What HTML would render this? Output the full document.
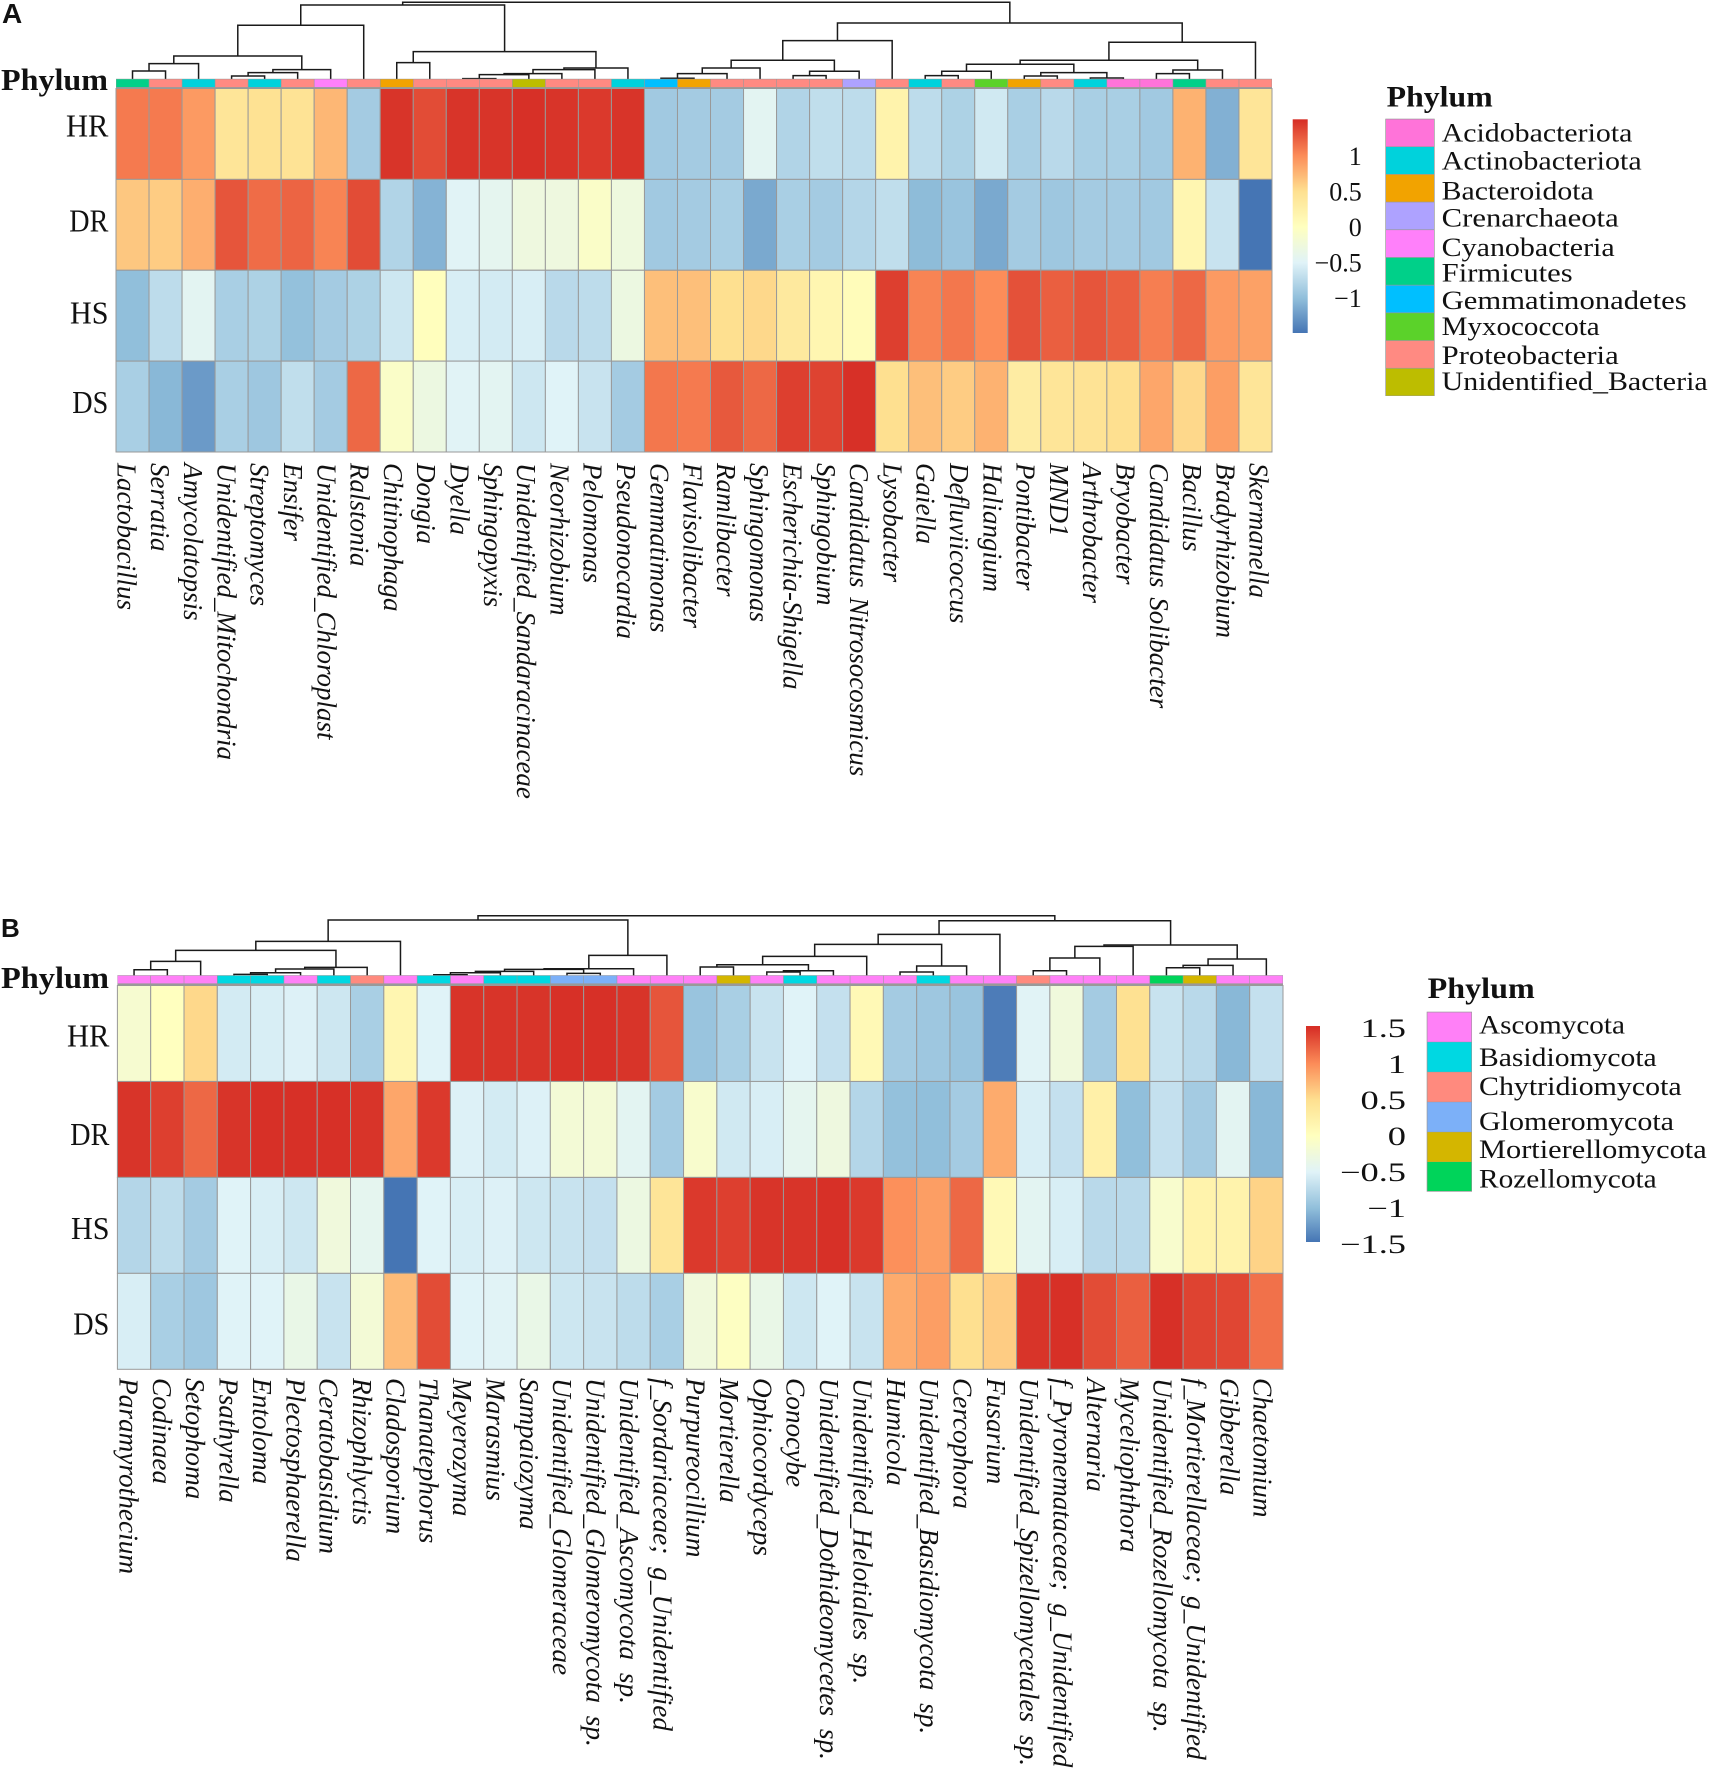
<!DOCTYPE html>
<html lang="en">
<head>
<meta charset="utf-8">
<title>Phylum heatmaps</title>
<style>
html,body{margin:0;padding:0;background:#fff;}
svg{display:block;}
text{font-family:"Liberation Serif",serif;fill:#111;}
</style>
</head>
<body>
<svg id="fig" xmlns="http://www.w3.org/2000/svg" width="1712" height="1772" viewBox="0 0 1712 1772">
  <rect x="0" y="0" width="1712" height="1772" fill="#fff"/>

  <text x="2" y="23" style="font-family:'Liberation Sans',sans-serif;font-weight:bold;font-size:28px">A</text>
  <text x="1" y="937" style="font-family:'Liberation Sans',sans-serif;font-weight:bold;font-size:26px">B</text>

  <text x="1" y="90" font-size="31" font-weight="bold" textLength="107" lengthAdjust="spacingAndGlyphs">Phylum</text>
  <text x="66" y="136.7" font-size="32" textLength="42.4" lengthAdjust="spacingAndGlyphs">HR</text>
  <text x="69.3" y="231.7" font-size="32" textLength="39" lengthAdjust="spacingAndGlyphs">DR</text>
  <text x="70" y="323.3" font-size="32" textLength="38.5" lengthAdjust="spacingAndGlyphs">HS</text>
  <text x="72.3" y="413" font-size="32" textLength="36" lengthAdjust="spacingAndGlyphs">DS</text>

  <text x="1" y="988" font-size="31" font-weight="bold" textLength="108" lengthAdjust="spacingAndGlyphs">Phylum</text>
  <text x="67" y="1046.7" font-size="32" textLength="42.4" lengthAdjust="spacingAndGlyphs">HR</text>
  <text x="70.3" y="1145" font-size="32" textLength="39" lengthAdjust="spacingAndGlyphs">DR</text>
  <text x="71" y="1239" font-size="32" textLength="38.5" lengthAdjust="spacingAndGlyphs">HS</text>
  <text x="73.3" y="1334.3" font-size="32" textLength="36" lengthAdjust="spacingAndGlyphs">DS</text>

  <g font-size="26">
    <text x="1386.7" y="106.7" font-size="30" font-weight="bold" textLength="106" lengthAdjust="spacingAndGlyphs">Phylum</text>
    <rect x="1385.3" y="118.7" width="49.4" height="277.3" fill="#999"/>
    <rect x="1386" y="119.4" width="48" height="27" fill="#FF73D9"/>
    <rect x="1386" y="147" width="48" height="27" fill="#00D2DC"/>
    <rect x="1386" y="174.7" width="48" height="27" fill="#F2A300"/>
    <rect x="1386" y="202.4" width="48" height="27" fill="#AEA2FF"/>
    <rect x="1386" y="230.1" width="48" height="27" fill="#FF80FA"/>
    <rect x="1386" y="257.8" width="48" height="27" fill="#00D089"/>
    <rect x="1386" y="285.5" width="48" height="27" fill="#00BFFF"/>
    <rect x="1386" y="313.2" width="48" height="27" fill="#5BD22A"/>
    <rect x="1386" y="340.9" width="48" height="27" fill="#FF8A82"/>
    <rect x="1386" y="368.6" width="48" height="27" fill="#BDBD00"/>
    <text x="1441.7" y="141.7" textLength="190.7" lengthAdjust="spacingAndGlyphs">Acidobacteriota</text>
    <text x="1441.7" y="169.3" textLength="200" lengthAdjust="spacingAndGlyphs">Actinobacteriota</text>
    <text x="1441.7" y="199.3" textLength="152" lengthAdjust="spacingAndGlyphs">Bacteroidota</text>
    <text x="1441.7" y="226.7" textLength="177" lengthAdjust="spacingAndGlyphs">Crenarchaeota</text>
    <text x="1441.7" y="256" textLength="173" lengthAdjust="spacingAndGlyphs">Cyanobacteria</text>
    <text x="1441.7" y="281.7" textLength="131" lengthAdjust="spacingAndGlyphs">Firmicutes</text>
    <text x="1441.7" y="309" textLength="245" lengthAdjust="spacingAndGlyphs">Gemmatimonadetes</text>
    <text x="1441.7" y="335" textLength="158" lengthAdjust="spacingAndGlyphs">Myxococcota</text>
    <text x="1441.7" y="364" textLength="177" lengthAdjust="spacingAndGlyphs">Proteobacteria</text>
    <text x="1441.7" y="390" textLength="266" lengthAdjust="spacingAndGlyphs">Unidentified_Bacteria</text>
  </g>

  <g font-size="26">
    <text x="1427.7" y="998" font-size="30" font-weight="bold" textLength="107" lengthAdjust="spacingAndGlyphs">Phylum</text>
    <rect x="1426.7" y="1011.7" width="45.3" height="180" fill="#999"/>
    <rect x="1427.4" y="1012.4" width="44" height="29.4" fill="#FF80F7"/>
    <rect x="1427.4" y="1042.2" width="44" height="29.6" fill="#00D8E2"/>
    <rect x="1427.4" y="1072.2" width="44" height="29.6" fill="#FF8A7E"/>
    <rect x="1427.4" y="1102.2" width="44" height="29.6" fill="#7CB0F8"/>
    <rect x="1427.4" y="1132.2" width="44" height="29.6" fill="#D4B600"/>
    <rect x="1427.4" y="1162" width="44" height="29" fill="#00D45A"/>
    <text x="1479" y="1033.3" textLength="146" lengthAdjust="spacingAndGlyphs">Ascomycota</text>
    <text x="1479" y="1066" textLength="177.7" lengthAdjust="spacingAndGlyphs">Basidiomycota</text>
    <text x="1479" y="1095" textLength="202.7" lengthAdjust="spacingAndGlyphs">Chytridiomycota</text>
    <text x="1479" y="1130" textLength="195" lengthAdjust="spacingAndGlyphs">Glomeromycota</text>
    <text x="1479" y="1158" textLength="227.7" lengthAdjust="spacingAndGlyphs">Mortierellomycota</text>
    <text x="1479" y="1187.7" textLength="177.7" lengthAdjust="spacingAndGlyphs">Rozellomycota</text>
  </g>
  <defs id="defs"></defs>
</svg>
<script>
// ---------- Panel A data ----------
const generaA = ["Lactobacillus","Serratia","Amycolatopsis","Unidentified_Mitochondria","Streptomyces","Ensifer","Unidentified_Chloroplast","Ralstonia","Chitinophaga","Dongia","Dyella","Sphingopyxis","Unidentified_Sandaracinaceae","Neorhizobium","Pelomonas","Pseudonocardia","Gemmatimonas","Flavisolibacter","Ramlibacter","Sphingomonas","Escherichia-Shigella","Sphingobium","Candidatus Nitrosocosmicus","Lysobacter","Gaiella","Defluviicoccus","Haliangium","Pontibacter","MND1","Arthrobacter","Bryobacter","Candidatus Solibacter","Bacillus","Bradyrhizobium","Skermanella"];
const phylumA = ["Firmicutes","Proteobacteria","Actinobacteriota","Proteobacteria","Actinobacteriota","Proteobacteria","Cyanobacteria","Proteobacteria","Bacteroidota","Proteobacteria","Proteobacteria","Proteobacteria","Unidentified_Bacteria","Proteobacteria","Proteobacteria","Actinobacteriota","Gemmatimonadetes","Bacteroidota","Proteobacteria","Proteobacteria","Proteobacteria","Proteobacteria","Crenarchaeota","Proteobacteria","Actinobacteriota","Proteobacteria","Myxococcota","Bacteroidota","Proteobacteria","Actinobacteriota","Acidobacteriota","Acidobacteriota","Firmicutes","Proteobacteria","Proteobacteria"];
const hrA = [1.1,1.1,.92,.42,.47,.45,.75,-.88,1.48,1.35,1.48,1.48,1.5,1.48,1.45,1.48,-.9,-.88,-.88,-.45,-.8,-.7,-.72,.2,-.72,-.82,-.6,-.85,-.75,-.85,-.85,-.9,.78,-1.1,.42];
const drA = [.65,.62,.8,1.3,1.18,1.22,1.05,1.35,-.8,-1.08,-.48,-.42,-.28,-.28,-.08,-.27,-.9,-.88,-.85,-1.15,-.85,-.88,-.78,-.7,-1.02,-.95,-1.15,-.88,-.92,-.88,-.88,-.9,.15,-.65,-1.5];
const hsA = [-1,-.72,-.45,-.85,-.82,-.98,-.88,-.82,-.62,.02,-.55,-.58,-.55,-.75,-.72,-.3,.7,.7,.5,.55,.35,.15,.05,1.42,1.05,1.12,1,1.32,1.25,1.3,1.25,1.08,1.2,.92,.88];
const dsA = [-.85,-1.05,-1.25,-.85,-.92,-.7,-.88,1.2,-.08,-.3,-.48,-.45,-.62,-.5,-.65,-.88,1.12,1.1,1.28,1.2,1.42,1.4,1.5,.5,.7,.62,.78,.3,.42,.45,.5,.85,.55,.9,.42];
const ticksA = [1,0.5,0,-0.5,-1];
// dendrogram: [merge height, child, child]; integers are leaf column indexes
const treeA = [77,
  [74.3,
    [54,[23.3,[15.7,[8.3,0,1],2],[9.7,[6.7,[3.3,3,4],5],6]],7],
    [27.7,[16.7,8,9],[11.3,[9.7,[5.7,[4.7,[0.7,10,11],12],13],14],15]]],
  [56.3,
    [38.7,[19,[11.3,[5.7,[1,16,17],18],19],[8,[3.7,20,21],22]],23],
    [37,[19,[15,[8,[3.7,24,25],26],[6.7,[3.3,27,28],[1.3,29,30]]],[9.3,[5.7,31,32],33]],34]]];

// ---------- Panel B data ----------
const generaB = ["Paramyrothecium","Codinaea","Setophoma","Psathyrella","Entoloma","Plectosphaerella","Ceratobasidium","Rhizophlyctis","Cladosporium","Thanatephorus","Meyerozyma","Marasmius","Sampaiozyma","Unidentified_Glomeraceae","Unidentified_Glomeromycota sp.","Unidentified_Ascomycota sp.","f_Sordariaceae; g_Unidentified","Purpureocillium","Mortierella","Ophiocordyceps","Conocybe","Unidentified_Dothideomycetes sp.","Unidentified_Helotiales sp.","Humicola","Unidentified_Basidiomycota sp.","Cercophora","Fusarium","Unidentified_Spizellomycetales sp.","f_Pyronemataceae; g_Unidentified","Alternaria","Myceliophthora","Unidentified_Rozellomycota sp.","f_Mortierellaceae; g_Unidentified","Gibberella","Chaetomium"];
const phylumB = ["Ascomycota","Ascomycota","Ascomycota","Basidiomycota","Basidiomycota","Ascomycota","Basidiomycota","Chytridiomycota","Ascomycota","Basidiomycota","Ascomycota","Basidiomycota","Basidiomycota","Glomeromycota","Glomeromycota","Ascomycota","Ascomycota","Ascomycota","Mortierellomycota","Ascomycota","Basidiomycota","Ascomycota","Ascomycota","Ascomycota","Basidiomycota","Ascomycota","Ascomycota","Chytridiomycota","Ascomycota","Ascomycota","Ascomycota","Rozellomycota","Mortierellomycota","Ascomycota","Ascomycota"];
const hrB = [-.15,0,.55,-.58,-.55,-.52,-.62,-.85,.15,-.5,1.48,1.48,1.48,1.5,1.5,1.48,1.3,-.95,-.85,-.65,-.5,-.68,.1,-.88,-.92,-.95,-1.45,-.48,-.25,-.88,.48,-.65,-.75,-1.05,-.68];
const drB = [1.48,1.42,1.2,1.48,1.5,1.5,1.5,1.48,.85,1.45,-.52,-.58,-.52,-.2,-.2,-.45,-.88,-.12,-.6,-.55,-.42,-.28,-.78,-.98,-1,-.88,.82,-.55,-.68,.25,-1,-.68,-.88,-.45,-1.05];
const hsB = [-.78,-.72,-.88,-.5,-.55,-.62,-.25,-.42,-1.5,-.5,-.55,-.52,-.62,-.65,-.68,-.3,.42,1.45,1.42,1.48,1.48,1.5,1.45,.98,.9,1.2,.1,-.45,-.55,-.75,-.75,-.12,.2,.2,.58];
const dsB = [-.55,-.85,-.92,-.5,-.5,-.35,-.65,-.2,.72,1.35,-.5,-.48,-.35,-.62,-.65,-.72,-.85,-.25,-.03,-.35,-.62,-.5,-.65,.82,.9,.5,.62,1.48,1.5,1.35,1.25,1.5,1.4,1.38,1.15];
const ticksB = [1.5,1,0.5,0,-0.5,-1,-1.5];
const treeB = [60,
  [55.7,
    [34.3,[25.3,[14.3,[6,0,1],2],[8.3,[6.7,[3,[1.3,3,4],5],6],7]],8],
    [20.3,[7,[6.3,[4.3,[3,[1,9,10],11],12],[2.3,13,14]],15],16]],
  [55,
    [41.3,[31.3,[19.3,[11,[8.7,17,18],[5,[3.7,19,20],21]],22],[9.7,[3.7,23,24],25]],26],
    [30.7,[29.3,[17.7,[5,27,28],29],30],[16.7,[10.3,[8,31,32],33],34]]]];

const phylumColors = {
  Acidobacteriota:"#FF73D9",Actinobacteriota:"#00D2DC",Bacteroidota:"#F2A300",Crenarchaeota:"#AEA2FF",Cyanobacteria:"#FF80FA",Firmicutes:"#00D089",Gemmatimonadetes:"#00BFFF",Myxococcota:"#5BD22A",Proteobacteria:"#FF8A82",Unidentified_Bacteria:"#BDBD00",
  Ascomycota:"#FF80F7",Basidiomycota:"#00D8E2",Chytridiomycota:"#FF8A7E",Glomeromycota:"#7CB0F8",Mortierellomycota:"#D4B600",Rozellomycota:"#00D45A"
};
const palette = ["#4575B4","#91BFDB","#E0F3F8","#FFFFBF","#FEE090","#FC8D59","#D73027"];

const NS = "http://www.w3.org/2000/svg";
const fig = document.getElementById("fig");
function make(tag, attrs, parent) {
  const el = document.createElementNS(NS, tag);
  for (const k in attrs) el.setAttribute(k, attrs[k]);
  (parent || fig).appendChild(el);
  return el;
}
function hex(c){return [1,3,5].map(i=>parseInt(c.substr(i,2),16));}
function colorOf(v){
  const t = Math.max(0, Math.min(6, (v + 1.5) / 0.5));
  const i = Math.min(5, Math.floor(t)), f = t - i;
  const a = hex(palette[i]), b = hex(palette[i + 1]);
  return "rgb(" + a.map((x, k) => Math.round(x + (b[k] - x) * f)).join(",") + ")";
}

function drawPanel(p) {
  const cols = p.rows[0].length;
  const colW = (p.x1 - p.x0) / cols;
  const rowH = (p.y1 - p.y0) / p.rows.length;
  const xAxis = i => p.x0 + i * colW;
  const yAxis = r => p.y0 + r * rowH;
  const hAxis = h => p.base - h;

  const dendro = make("g", {fill:"none", stroke:"#1a1a1a", "stroke-width":"1.5"});
  
  
  function walk(n) {
    if (typeof n === "number") return {x: xAxis(n) + colW / 2, y: p.base};
    const l = walk(n[1]), r = walk(n[2]), y = hAxis(n[0]);
    const link = make("path", {d:"M" + l.x + " " + l.y + "V" + y + "H" + r.x + "V" + r.y}, dendro);
    
    
    return {x: (l.x + r.x) / 2, y: y};
  }
  walk(p.tree);

  const strip = make("g", {});
  
  
  const stripBack = make("rect", {x:p.x0, y:p.stripTop - 0.5, width:p.x1 - p.x0, height:p.y0 - p.stripTop + 0.5, fill:"#999"}, strip);
  
  
  p.phylum.forEach((name, i) => {
    const c = make("rect", {x:xAxis(i) + 0.3, y:p.stripTop, width:colW - 0.6, height:p.stripH, fill:phylumColors[name]}, strip);
    
    
  });

  const heat = make("g", {stroke:"#999", "stroke-width":"1"});
  
  
  p.rows.forEach((vals, r) => {
    vals.forEach((v, i) => {
      const cell = make("rect", {x:xAxis(i), y:yAxis(r), width:colW, height:rowH, fill:colorOf(v)}, heat);
      
      
    });
  });

  p.genera.forEach((name, i) => {
    const t = make("text", {"font-size":p.labelSize, "font-style":"italic", "word-spacing":p.labelWordGap, transform:"translate(" + (p.labelX + i * p.labelStep) + "," + p.labelY + ") rotate(90)"});
    t.textContent = name;
    
    
  });

  // colour bar
  const vTop = (p.barZero - p.barY0) / p.barUnit, vBot = (p.barZero - p.barY1) / p.barUnit;
  const gradId = "grad" + p.id;
  const grad = make("linearGradient", {id:gradId, x1:"0", y1:"0", x2:"0", y2:"1"}, document.getElementById("defs"));
  [1.5,1,0.5,0,-0.5,-1,-1.5].forEach(v => {
    make("stop", {offset:Math.max(0, Math.min(1, (vTop - v) / (vTop - vBot))), "stop-color":colorOf(v)}, grad);
  });
  const bar = make("rect", {x:p.barX, y:p.barY0, width:p.barW, height:p.barY1 - p.barY0, fill:"url(#" + gradId + ")"});
  
  
  p.ticks.forEach(v => {
    const y = p.barZero - v * p.barUnit + 9;
    const t = make("text", {"font-size":"26", "text-anchor":"end", transform:"translate(" + p.tickX + "," + y + ") scale(" + p.tickStretch + ",1)"});
    t.textContent = String(v).replace("-", "\u2212");
    
    
  });
}

drawPanel({id:"A", rows:[hrA,drA,hsA,dsA], genera:generaA, phylum:phylumA, tree:treeA, ticks:ticksA,
  x0:116, x1:1272, y0:88.5, y1:452, base:79.3, stripTop:79.3, stripH:7.8,
  labelX:117.5, labelY:463, labelStep:33.3, labelSize:27, labelWordGap:3,
  barX:1292.7, barW:15, barY0:119.3, barY1:333, barZero:227, barUnit:71, tickX:1361.7, tickStretch:1});
drawPanel({id:"B", rows:[hrB,drB,hsB,dsB], genera:generaB, phylum:phylumB, tree:treeB, ticks:ticksB,
  x0:117.4, x1:1283, y0:985.5, y1:1369.3, base:975.7, stripTop:975.7, stripH:7.7,
  labelX:119.5, labelY:1378, labelStep:33.36, labelSize:27.3, labelWordGap:6,
  barX:1306, barW:14, barY0:1026, barY1:1242, barZero:1136, barUnit:72, tickX:1406, tickStretch:1.4});
</script>
</body>
</html>
